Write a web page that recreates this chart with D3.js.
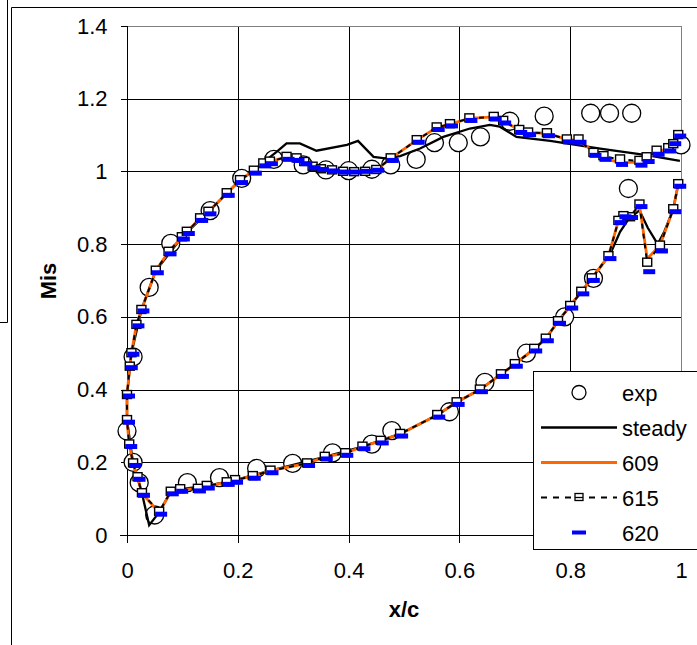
<!DOCTYPE html>
<html>
<head>
<meta charset="utf-8">
<script src="https://cdn.jsdelivr.net/npm/d3@7"></script>
<style>
  body { margin: 0; background: #fff; }
  text { font-family: 'Liberation Sans', Arial, sans-serif; }
</style>
</head>
<body>
<svg id="chart" width="697" height="645"></svg>
<script>
// tick values
const xTicks = [0, 0.2, 0.4, 0.6, 0.8, 1]
const yTicks = [0, 0.2, 0.4, 0.6, 0.8, 1, 1.2, 1.4]

// experiment
const expX = [0, 0.011, 0.04, 0.079, 0.15, 0.207, 0.265, 0.318, 0.359, 0.4, 0.442, 0.476, 0.522, 0.555, 0.598, 0.638, 0.691, 0.753, 0.837, 0.871, 0.911, 1.0,
  0.011, 0.022, 0.05, 0.109, 0.167, 0.234, 0.299, 0.371, 0.442, 0.478, 0.582, 0.646, 0.721, 0.79, 0.842, 0.905]
const expMis = [0.286, 0.49, 0.681, 0.802, 0.892, 0.981, 1.033, 1.018, 1.004, 1.002, 1.006, 1.018, 1.033, 1.079, 1.079, 1.095, 1.138, 1.152, 1.16, 1.16, 1.16, 1.073,
  0.2, 0.144, 0.055, 0.144, 0.158, 0.183, 0.197, 0.226, 0.25, 0.287, 0.339, 0.42, 0.5, 0.6, 0.706, 0.953]

// steady computation (lower TE -> LE -> upper TE)
const steadyX = [0.995, 0.986, 0.970, 0.958, 0.940, 0.925, 0.905, 0.890, 0.872, 0.839, 0.820, 0.800, 0.778, 0.756, 0.735, 0.700, 0.675, 0.637, 0.595, 0.560, 0.493, 0.425, 0.357, 0.259, 0.195, 0.144, 0.096, 0.079, 0.058, 0.040, 0.027, 0.011, 0.000, 0.000,
  0.008, 0.026, 0.052, 0.099, 0.147, 0.204, 0.229, 0.250, 0.270, 0.288, 0.312, 0.342, 0.397, 0.417, 0.445, 0.466, 0.493, 0.529, 0.571, 0.619, 0.655, 0.673, 0.703, 0.764, 0.854, 0.938, 0.998]
const steadyMis = [0.965, 0.896, 0.835, 0.800, 0.845, 0.893, 0.868, 0.834, 0.772, 0.706, 0.669, 0.630, 0.588, 0.540, 0.512, 0.470, 0.442, 0.400, 0.365, 0.330, 0.278, 0.243, 0.215, 0.177, 0.151, 0.135, 0.126, 0.119, 0.062, 0.027, 0.115, 0.197, 0.316, 0.385,
  0.500, 0.619, 0.727, 0.819, 0.889, 0.976, 1.002, 1.030, 1.054, 1.077, 1.077, 1.057, 1.073, 1.084, 1.040, 1.036, 1.042, 1.063, 1.095, 1.118, 1.128, 1.123, 1.095, 1.084, 1.063, 1.045, 1.029]

// unsteady snapshots, same stations
const cfdX = [0.995, 0.986, 0.962, 0.939, 0.925, 0.908, 0.896, 0.887, 0.869, 0.839, 0.820, 0.800, 0.778, 0.756, 0.735, 0.700, 0.675, 0.637, 0.595, 0.560,
  0.493, 0.458, 0.425, 0.394, 0.357, 0.325, 0.259, 0.227, 0.195, 0.180, 0.144, 0.128, 0.096, 0.079, 0.058, 0.027, 0.019, 0.011, 0.004, 0.000, 0.000,
  0.005, 0.008, 0.017, 0.026, 0.052, 0.075, 0.099, 0.108, 0.132, 0.147, 0.180, 0.204, 0.229, 0.246, 0.258, 0.288, 0.306, 0.320, 0.335, 0.350,
  0.370, 0.390, 0.410, 0.430, 0.450, 0.476, 0.523, 0.559, 0.583, 0.618, 0.662, 0.679, 0.708, 0.724, 0.758, 0.794, 0.815, 0.842, 0.860, 0.890,
  0.925, 0.938, 0.956, 0.977, 0.986, 0.995]
const mis609 = [0.965, 0.896, 0.796, 0.760, 0.909, 0.874, 0.877, 0.864, 0.767, 0.706, 0.669, 0.630, 0.588, 0.540, 0.512, 0.470, 0.442, 0.400, 0.365, 0.330,
  0.278, 0.259, 0.243, 0.225, 0.215, 0.197, 0.177, 0.162, 0.151, 0.145, 0.135, 0.127, 0.126, 0.119, 0.062, 0.115, 0.159, 0.197, 0.249, 0.316, 0.385,
  0.463, 0.500, 0.578, 0.619, 0.727, 0.779, 0.819, 0.834, 0.871, 0.889, 0.940, 0.976, 1.002, 1.022, 1.027, 1.040, 1.036, 1.026, 1.013, 1.006,
  1.003, 0.999, 0.998, 0.999, 1.004, 1.036, 1.086, 1.121, 1.130, 1.146, 1.150, 1.139, 1.114, 1.107, 1.105, 1.088, 1.085, 1.055, 1.035, 1.025,
  1.025, 1.036, 1.052, 1.064, 1.075, 1.100]
const mis615 = [0.965, 0.896, 0.796, 0.749, 0.909, 0.874, 0.877, 0.864, 0.767, 0.706, 0.669, 0.630, 0.588, 0.540, 0.512, 0.470, 0.442, 0.400, 0.365, 0.330,
  0.278, 0.259, 0.243, 0.225, 0.215, 0.197, 0.177, 0.162, 0.151, 0.145, 0.135, 0.127, 0.126, 0.119, 0.064, 0.115, 0.159, 0.197, 0.249, 0.316, 0.385,
  0.463, 0.500, 0.578, 0.619, 0.727, 0.779, 0.819, 0.834, 0.871, 0.889, 0.940, 0.976, 1.002, 1.022, 1.027, 1.040, 1.036, 1.026, 1.013, 1.006,
  1.003, 0.999, 0.998, 0.999, 1.004, 1.036, 1.086, 1.121, 1.130, 1.146, 1.150, 1.139, 1.114, 1.107, 1.105, 1.088, 1.088, 1.051, 1.042, 1.033,
  1.029, 1.039, 1.057, 1.064, 1.075, 1.100]
const mis620 = [0.962, 0.892, 0.784, 0.727, 0.906, 0.876, 0.878, 0.862, 0.763, 0.703, 0.666, 0.627, 0.585, 0.537, 0.509, 0.467, 0.439, 0.397, 0.362, 0.327,
  0.275, 0.256, 0.240, 0.222, 0.212, 0.194, 0.174, 0.159, 0.148, 0.142, 0.132, 0.124, 0.123, 0.116, 0.060, 0.112, 0.156, 0.194, 0.246, 0.313, 0.385,
  0.463, 0.500, 0.578, 0.619, 0.724, 0.776, 0.817, 0.832, 0.868, 0.886, 0.937, 0.972, 0.998, 1.018, 1.024, 1.036, 1.033, 1.024, 1.013, 1.008,
  1.004, 1.001, 1.001, 1.003, 1.006, 1.033, 1.083, 1.118, 1.128, 1.143, 1.147, 1.136, 1.110, 1.104, 1.101, 1.084, 1.083, 1.047, 1.036, 1.022,
  1.020, 1.030, 1.050, 1.059, 1.079, 1.100]

const legendNames = ['exp', 'steady', '609', '615', '620']
const orange = '#ff6600'
const blue = '#0000ff'
const fontSize = 22

const svg = d3.select('#chart')
const x = d3.scaleLinear().domain([0, 1]).range([127, 681])
const y = d3.scaleLinear().domain([0, 1.4]).range([535, 26])
const fmt = d3.format('~g')

// outer frames
const frame = svg.append('g').attr('stroke', '#000').attr('stroke-width', 1).attr('fill', 'none')
frame.append('path').attr('d', 'M7.5,0V322.5H0')
frame.append('path').attr('d', 'M11.5,645V7.5H697')

// grid
const grid = svg.append('g').attr('shape-rendering', 'crispEdges')
grid.selectAll('.hg').data(yTicks.filter(d => d > 0 && d < 1.4)).join('line')
  .attr('x1', x(0)).attr('x2', x(1)).attr('y1', d => Math.round(y(d)) + 0.5).attr('y2', d => Math.round(y(d)) + 0.5)
  .attr('stroke', '#000')
grid.selectAll('.vg').data(xTicks.filter(d => d > 0 && d < 1)).join('line')
  .attr('y1', y(0)).attr('y2', y(1.4)).attr('x1', d => Math.round(x(d)) + 0.5).attr('x2', d => Math.round(x(d)) + 0.5)
  .attr('stroke', '#000')
grid.append('path')
  .attr('d', `M${x(0)},${Math.round(y(1.4)) + 0.5}H${Math.round(x(1)) + 0.5}V${y(0)}`)
  .attr('fill', 'none').attr('stroke', '#808080')

// axes
const yAxis = svg.append('g').attr('transform', `translate(${Math.round(x(0)) + 0.5},0)`)
  .call(d3.axisLeft(y).tickValues(yTicks).tickSize(7).tickPadding(13).tickFormat(fmt))
const xAxis = svg.append('g').attr('transform', `translate(0,${Math.round(y(0)) + 0.5})`)
  .call(d3.axisBottom(x).tickValues(xTicks).tickSize(7).tickPadding(20).tickFormat(fmt))
for (const ax of [xAxis, yAxis]) {
  ax.select('.domain').remove()
  ax.selectAll('line').attr('stroke', '#000').attr('shape-rendering', 'crispEdges')
  ax.selectAll('text').attr('font-size', fontSize).attr('fill', '#000')
    .attr('font-family', "'Liberation Sans', Arial, sans-serif")
}
svg.append('line').attr('x1', Math.round(x(0)) + 0.5).attr('x2', Math.round(x(0)) + 0.5)
  .attr('y1', y(0) + 7).attr('y2', y(1.4)).attr('stroke', '#000').attr('shape-rendering', 'crispEdges')
svg.append('line').attr('x1', x(0) - 7).attr('x2', x(1)).attr('y1', Math.round(y(0)) + 0.5).attr('y2', Math.round(y(0)) + 0.5)
  .attr('stroke', '#000').attr('shape-rendering', 'crispEdges')

// axis titles
svg.append('text').attr('transform', 'translate(56,281) rotate(-90)').attr('text-anchor', 'middle')
  .attr('font-size', fontSize).attr('font-weight', 'bold').text('Mis')
svg.append('text').attr('x', (x(0) + x(1)) / 2).attr('y', 617).attr('text-anchor', 'middle')
  .attr('font-size', fontSize).attr('font-weight', 'bold').text('x/c')

// series
const pts = (xs, ys) => xs.map((d, i) => [d, ys[i]])
const line = d3.line().x(d => x(d[0])).y(d => y(d[1]))
const plot = svg.append('g')

plot.selectAll('.exp').data(pts(expX, expMis)).join('circle')
  .attr('cx', d => x(d[0])).attr('cy', d => y(d[1])).attr('r', 9)
  .attr('fill', '#fff').attr('stroke', '#000').attr('stroke-width', 1.3)

plot.append('path').attr('d', line(pts(steadyX, steadyMis)))
  .attr('fill', 'none').attr('stroke', '#000').attr('stroke-width', 2.3)
plot.append('path').attr('d', line(pts(cfdX, mis609)))
  .attr('fill', 'none').attr('stroke', orange).attr('stroke-width', 2.8)
plot.append('path').attr('d', line(pts(cfdX, mis615)))
  .attr('fill', 'none').attr('stroke', '#000').attr('stroke-width', 2).attr('stroke-dasharray', '5,5')
plot.selectAll('.sq').data(pts(cfdX, mis615)).join('rect')
  .attr('x', d => x(d[0]) - 4.5).attr('y', d => y(d[1]) - 4.5).attr('width', 9).attr('height', 8)
  .attr('fill', '#fff').attr('stroke', '#000').attr('stroke-width', 1.4)
plot.selectAll('.dash').data(pts(cfdX, mis620)).join('rect')
  .attr('x', d => x(d[0]) - 4).attr('y', d => y(d[1]) - 1.5).attr('width', 12).attr('height', 5)
  .attr('fill', blue)

// legend
const lg = svg.append('g')
lg.append('rect').attr('x', 533.5).attr('y', 371.5).attr('width', 170).attr('height', 178)
  .attr('fill', '#fff').attr('stroke', '#000')
const row = d3.scaleBand().domain(legendNames).range([375, 550])
const items = lg.selectAll('.item').data(legendNames).join('g')
  .attr('transform', d => `translate(0,${row(d) + row.bandwidth() / 2})`)
items.append('text').attr('x', 622).attr('dy', 8).attr('font-size', fontSize).text(d => d)
items.filter(d => d === 'exp').append('circle').attr('cx', 579).attr('r', 7)
  .attr('fill', '#fff').attr('stroke', '#000').attr('stroke-width', 1.3)
items.filter(d => d === 'steady').append('line').attr('x1', 541).attr('x2', 617)
  .attr('stroke', '#000').attr('stroke-width', 2.3)
items.filter(d => d === '609').append('line').attr('x1', 541).attr('x2', 617)
  .attr('stroke', orange).attr('stroke-width', 2.8)
const l615 = items.filter(d => d === '615')
l615.append('line').attr('x1', 541).attr('x2', 617).attr('stroke', '#000').attr('stroke-width', 2).attr('stroke-dasharray', '6,6')
l615.append('rect').attr('x', 575).attr('y', -4).attr('width', 8).attr('height', 7)
  .attr('fill', '#fff').attr('stroke', '#000').attr('stroke-width', 1.3)
l615.append('line').attr('x1', 575).attr('x2', 583).attr('stroke', '#000').attr('stroke-width', 1.3)
items.filter(d => d === '620').append('rect').attr('x', 572).attr('y', -2).attr('width', 14).attr('height', 4)
  .attr('fill', blue)
</script>
</body>
</html>
